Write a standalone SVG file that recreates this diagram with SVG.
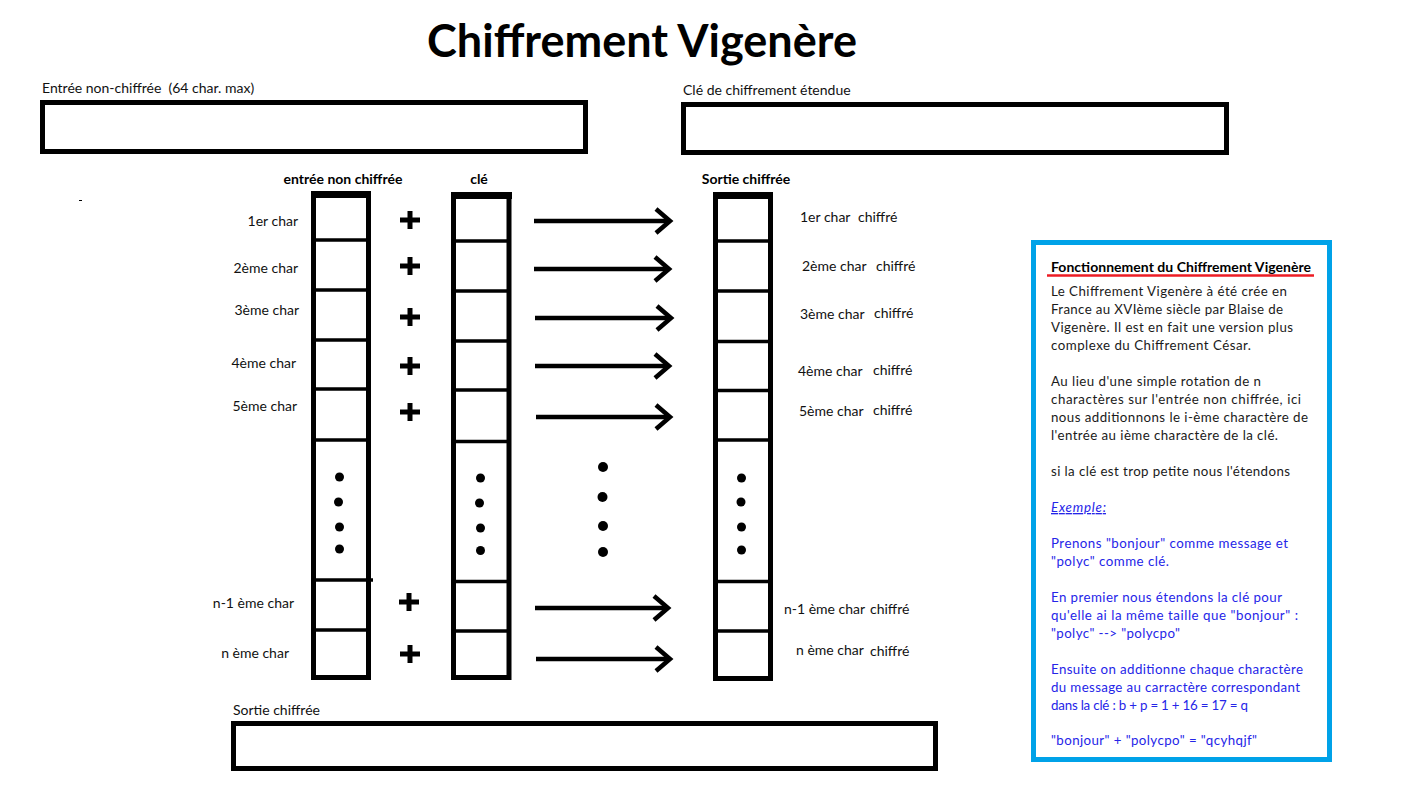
<svg xmlns="http://www.w3.org/2000/svg" width="1401" height="800" viewBox="0 0 1401 800">
<defs>
<style>
.bg{fill:#fff}
.box{fill:#fff;stroke:#000;stroke-width:5}
.col{fill:#fff;stroke:#000;stroke-width:5}
.div{stroke:#000;stroke-width:3.5}
.lbl{font-family:Lato,"Liberation Sans",sans-serif;font-size:14px;fill:#111}
.hdr{font-family:Lato,"Liberation Sans",sans-serif;font-size:14px;font-weight:bold;fill:#000}
.title{font-family:Lato,"Liberation Sans",sans-serif;font-size:45px;font-weight:bold;fill:#000}
.info{font-family:Lato,"Liberation Sans",sans-serif;font-size:13.3px;fill:#1a1a1a}
.blue{font-family:Lato,"Liberation Sans",sans-serif;font-size:13.3px;fill:#2525e8}
.plus{stroke:#000;stroke-width:5}
.dot{fill:#000}
.arrow{stroke:#000;stroke-width:4.5;fill:none;marker-end:url(#chev)}
</style>
<marker id="chev" markerWidth="24" markerHeight="32" refX="17" refY="14" orient="auto" markerUnits="userSpaceOnUse">
<path d="M3,2 L17,14 L3,26" fill="none" stroke="#000" stroke-width="4.5"/>
</marker>
<g id="plusSym"><line class="plus" x1="-10" y1="0" x2="10" y2="0"/><line class="plus" x1="0" y1="-9" x2="0" y2="9"/></g>
</defs>
<rect class="bg" x="0" y="0" width="1401" height="800"/>

<g id="title">
<text class="title" x="642" y="57" text-anchor="middle">Chiffrement Vigenère</text>
</g>

<g id="input-box">
<text class="lbl" x="42" y="93">Entrée non-chiffrée&#160; (64 char. max)</text>
<rect class="box" x="42.5" y="102.5" width="543" height="49"/>
</g>

<g id="key-box">
<text class="lbl" x="683" y="95">Clé de chiffrement étendue</text>
<rect class="box" x="683.5" y="104.5" width="543" height="48"/>
</g>

<rect x="79" y="200" width="3" height="1" fill="#000"/>

<g id="col-input">
<text class="hdr" x="343" y="184" text-anchor="middle">entrée non chiffrée</text>
<rect class="col" x="313.5" y="194" width="55" height="483.5"/>
<rect x="311" y="191" width="60" height="7" fill="#000"/>
<line class="div" x1="313" y1="240" x2="369" y2="240"/>
<line class="div" x1="313" y1="290" x2="369" y2="290"/>
<line class="div" x1="313" y1="340" x2="369" y2="340"/>
<line class="div" x1="313" y1="389" x2="369" y2="389"/>
<line class="div" x1="313" y1="440" x2="369" y2="440"/>
<line class="div" x1="313" y1="580" x2="373" y2="580"/>
<line class="div" x1="313" y1="630" x2="369" y2="630"/>
<circle class="dot" cx="339.5" cy="477" r="4.5"/>
<circle class="dot" cx="338.5" cy="502" r="4.5"/>
<circle class="dot" cx="339.5" cy="527" r="4.5"/>
<circle class="dot" cx="339.5" cy="549" r="4.5"/>
<text class="lbl" x="298" y="226" text-anchor="end">1er char</text>
<text class="lbl" x="298" y="273" text-anchor="end">2ème char</text>
<text class="lbl" x="299" y="315" text-anchor="end">3ème char</text>
<text class="lbl" x="296" y="368" text-anchor="end">4ème char</text>
<text class="lbl" x="297" y="411" text-anchor="end">5ème char</text>
<text class="lbl" x="294" y="608" text-anchor="end">n-1 ème char</text>
<text class="lbl" x="289" y="658" text-anchor="end">n ème char</text>
</g>

<g id="plus-signs">
<use href="#plusSym" x="410" y="220"/>
<use href="#plusSym" x="410" y="266"/>
<use href="#plusSym" x="410" y="317"/>
<use href="#plusSym" x="410" y="366"/>
<use href="#plusSym" x="410" y="412"/>
<use href="#plusSym" x="409" y="602"/>
<use href="#plusSym" x="410" y="654"/>
</g>

<g id="col-key">
<text class="hdr" x="479" y="184" text-anchor="middle">clé</text>
<rect class="col" x="453.5" y="195" width="55.5" height="482.5"/>
<rect x="451" y="192" width="61" height="7" fill="#000"/>
<line class="div" x1="453" y1="241" x2="510" y2="241"/>
<line class="div" x1="453" y1="291" x2="510" y2="291"/>
<line class="div" x1="453" y1="341" x2="510" y2="341"/>
<line class="div" x1="453" y1="390" x2="510" y2="390"/>
<line class="div" x1="453" y1="441.5" x2="510" y2="441.5"/>
<line class="div" x1="453" y1="581.5" x2="510" y2="581.5"/>
<line class="div" x1="453" y1="631" x2="510" y2="631"/>
<circle class="dot" cx="480.5" cy="478" r="4.5"/>
<circle class="dot" cx="479.5" cy="503" r="4.5"/>
<circle class="dot" cx="480.5" cy="528" r="4.5"/>
<circle class="dot" cx="480.5" cy="550.5" r="4.5"/>
</g>

<g id="middle-dots">
<circle class="dot" cx="603" cy="467" r="5"/>
<circle class="dot" cx="602.5" cy="497" r="5"/>
<circle class="dot" cx="603" cy="526" r="5"/>
<circle class="dot" cx="603" cy="552" r="5"/>
</g>

<g id="connectors">
<line class="arrow" x1="534" y1="221" x2="670" y2="221"/>
<line class="arrow" x1="534" y1="269" x2="669" y2="269"/>
<line class="arrow" x1="535" y1="318" x2="671" y2="318"/>
<line class="arrow" x1="535" y1="366" x2="669" y2="366"/>
<line class="arrow" x1="536" y1="417" x2="670" y2="417"/>
<line class="arrow" x1="535" y1="608" x2="668" y2="608"/>
<line class="arrow" x1="536" y1="659" x2="670" y2="659"/>
</g>

<g id="col-output">
<text class="hdr" x="746" y="184" text-anchor="middle">Sortie chiffrée</text>
<rect class="col" x="715.5" y="195" width="55" height="483.5"/>
<rect x="713" y="192" width="60" height="7" fill="#000"/>
<line class="div" x1="715" y1="241" x2="771" y2="241"/>
<line class="div" x1="715" y1="291" x2="771" y2="291"/>
<line class="div" x1="715" y1="341.5" x2="771" y2="341.5"/>
<line class="div" x1="715" y1="390.5" x2="771" y2="390.5"/>
<line class="div" x1="715" y1="440" x2="771" y2="440"/>
<line class="div" x1="715" y1="581.5" x2="771" y2="581.5"/>
<line class="div" x1="715" y1="631" x2="771" y2="631"/>
<circle class="dot" cx="741.5" cy="478" r="4.5"/>
<circle class="dot" cx="741" cy="502" r="4.5"/>
<circle class="dot" cx="741.5" cy="527" r="4.5"/>
<circle class="dot" cx="741.5" cy="550" r="4.5"/>
<text class="lbl" x="800" y="222">1er char</text><text class="lbl" x="858" y="222">chiffré</text>
<text class="lbl" x="802" y="271">2ème char</text><text class="lbl" x="876" y="271">chiffré</text>
<text class="lbl" x="800" y="319">3ème char</text><text class="lbl" x="874" y="318">chiffré</text>
<text class="lbl" x="798" y="376">4ème char</text><text class="lbl" x="873" y="375">chiffré</text>
<text class="lbl" x="799" y="416">5ème char</text><text class="lbl" x="873" y="415">chiffré</text>
<text class="lbl" x="784" y="614">n-1 ème char</text><text class="lbl" x="870" y="614">chiffré</text>
<text class="lbl" x="796" y="655">n ème char</text><text class="lbl" x="870" y="656">chiffré</text>
</g>

<g id="output-box">
<text class="lbl" x="233" y="715">Sortie chiffrée</text>
<rect class="box" x="233.5" y="723.5" width="702" height="45"/>
</g>

<g id="info-box">
<rect x="1033.5" y="242.5" width="296" height="517" fill="#fff" stroke="#00a2e8" stroke-width="5"/>
<text class="hdr" x="1051" y="272" textLength="260" lengthAdjust="spacing">Fonctionnement du Chiffrement Vigenère</text>
<line x1="1047" y1="275.5" x2="1314" y2="275.5" stroke="#ed1c24" stroke-width="2.5"/>
<text class="info" x="1051" y="296" textLength="236" lengthAdjust="spacing">Le Chiffrement Vigenère à été crée en</text>
<text class="info" x="1051" y="314" textLength="232" lengthAdjust="spacing">France au XVIème siècle par Blaise de</text>
<text class="info" x="1051" y="332" textLength="242" lengthAdjust="spacing">Vigenère. Il est en fait une version plus</text>
<text class="info" x="1051" y="350" textLength="200" lengthAdjust="spacing">complexe du Chiffrement César.</text>
<text class="info" x="1051" y="386" textLength="210" lengthAdjust="spacing">Au lieu d'une simple rotation de n</text>
<text class="info" x="1051" y="404" textLength="250" lengthAdjust="spacing">charactères sur l'entrée non chiffrée, ici</text>
<text class="info" x="1051" y="422" textLength="257" lengthAdjust="spacing">nous additionnons le i-ème charactère de</text>
<text class="info" x="1051" y="440" textLength="227" lengthAdjust="spacing">l'entrée au ième charactère de la clé.</text>
<text class="info" x="1051" y="476" textLength="239" lengthAdjust="spacing">si la clé est trop petite nous l'étendons</text>
<text class="blue" x="1051" y="512" font-style="italic" text-decoration="underline" textLength="55" lengthAdjust="spacing">Exemple:</text>
<text class="blue" x="1051" y="548" textLength="237" lengthAdjust="spacing">Prenons "bonjour" comme message et</text>
<text class="blue" x="1051" y="566" textLength="118" lengthAdjust="spacing">"polyc" comme clé.</text>
<text class="blue" x="1051" y="602" textLength="231" lengthAdjust="spacing">En premier nous étendons la clé pour</text>
<text class="blue" x="1051" y="620" textLength="247" lengthAdjust="spacing">qu'elle ai la même taille que "bonjour" :</text>
<text class="blue" x="1051" y="638" textLength="129" lengthAdjust="spacing">"polyc" --&gt; "polycpo"</text>
<text class="blue" x="1051" y="674" textLength="252" lengthAdjust="spacing">Ensuite on additionne chaque charactère</text>
<text class="blue" x="1051" y="692" textLength="249" lengthAdjust="spacing">du message au carractère correspondant</text>
<text class="blue" x="1051" y="710" textLength="197" lengthAdjust="spacing">dans la clé : b + p = 1 + 16 = 17 = q</text>
<text class="blue" x="1051" y="745" textLength="206" lengthAdjust="spacing">"bonjour" + "polycpo" = "qcyhqjf"</text>
</g>
</svg>
